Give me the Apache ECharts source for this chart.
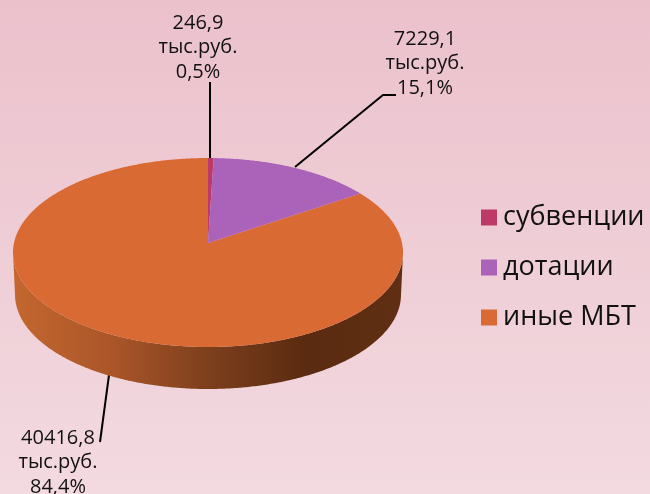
<!DOCTYPE html>
<html>
<head>
<meta charset="utf-8">
<style>
html, body { margin: 0; padding: 0; }
#main { width: 650px; height: 494px; }
</style>
<script src="https://cdn.jsdelivr.net/npm/echarts@6/dist/echarts.min.js"></script>
</head>
<body>
<div id="main"></div>
<script>
var categories = ['субвенции', 'дотации', 'иные МБТ'];
var values = [246.9, 7229.1, 40416.8];
var valueLabels = ['246,9', '7229,1', '40416,8'];
var percentLabels = ['0,5%', '15,1%', '84,4%'];
var unitLabel = 'тыс.руб.';
var colors = ['#bd3a68', '#ab62b9', '#da6a33'];

// геометрия псевдо-3D круга
var cx = 208, cy = 252.5, rx = 195, ry = 94.5;
var apexY = 243, depth = 42, bottomRx = 193;
var font = '"Open Sans"';

var total = values.reduce(function (a, b) { return a + b; }, 0);

// точка на краю эллипса по лучу из вершины сектора
function rimPoint(angle) {
	var dx = Math.sin(angle), dy = -Math.cos(angle) * ry / rx;
	var oy = apexY - cy;
	var a = dx * dx / (rx * rx) + dy * dy / (ry * ry);
	var b = 2 * oy * dy / (ry * ry);
	var c = oy * oy / (ry * ry) - 1;
	var t = (-b + Math.sqrt(b * b - 4 * a * c)) / (2 * a);
	return [cx + dx * t, apexY + dy * t];
}

function rimArc(start, end) {
	var pts = [];
	var n = Math.max(2, Math.ceil((end - start) / (Math.PI / 360)));
	for (var i = 0; i <= n; i++) {
		pts.push(rimPoint(start + (end - start) * i / n));
	}
	return pts;
}

var wallGradient = new echarts.graphic.LinearGradient(0, 0, 1, 0, [
	{ offset: 0, color: '#c4672f' },
	{ offset: 0.25, color: '#ab5629' },
	{ offset: 0.5, color: '#7d3f1c' },
	{ offset: 0.75, color: '#5a2b11' },
	{ offset: 1, color: '#602f13' }
]);

function makeSeries(name, index) {
	var before = values.slice(0, index).reduce(function (a, b) { return a + b; }, 0);
	return {
		name: name,
		type: 'custom',
		coordinateSystem: 'none',
		silent: true,
		z: index === 2 ? 2 : 3,
		data: [values[index]],
		renderItem: function (params, api) {
			var start = before / total * Math.PI * 2;
			var end = (before + api.value(0)) / total * Math.PI * 2;
			var arc = rimArc(start, end);
			var children = [];

			// боковая стенка видна только на передней половине
			var front = arc.filter(function (p) { return p[1] >= cy; });
			if (front.length > 1) {
				var lower = front.map(function (p) {
					return [cx + (p[0] - cx) * bottomRx / rx, p[1] + depth];
				}).reverse();
				children.push({
					type: 'polygon',
					shape: { points: front.concat(lower) },
					style: { fill: wallGradient }
				});
			}
			children.push({
				type: 'polygon',
				shape: { points: [[cx, apexY]].concat(arc) },
				style: { fill: colors[index] }
			});
			return { type: 'group', children: children };
		}
	};
}

function labelText(i, x, y) {
	return {
		type: 'text',
		x: x,
		y: y,
		z: 10,
		style: {
			text: valueLabels[i] + '\n' + unitLabel + '\n' + percentLabels[i],
			font: '20px ' + font,
			lineHeight: 24.5,
			fill: '#111',
			align: 'center'
		}
	};
}

function leader(points) {
	return {
		type: 'polyline',
		z: 1,
		shape: { points: points },
		style: { stroke: '#000', lineWidth: 2, fill: null }
	};
}

var myChart = echarts.init(document.getElementById('main'));
myChart.setOption({
	animation: false,
	backgroundColor: new echarts.graphic.LinearGradient(0, 0, 0, 1, [
		{ offset: 0, color: '#ebc1cc' },
		{ offset: 1, color: '#f3dae0' }
	]),
	color: colors,
	legend: {
		orient: 'vertical',
		left: 481,
		top: 204,
		icon: 'rect',
		itemWidth: 16,
		itemHeight: 16,
		itemGap: 23,
		padding: 0,
		selectedMode: false,
		textStyle: { fontFamily: font, fontSize: 27, color: '#111', padding: [0, 0, 0, 1] },
		data: categories
	},
	graphic: [
		leader([[210, 82], [210, 158]]),
		leader([[396, 95], [383, 95], [295, 167]]),
		leader([[109, 375], [100, 442]]),
		labelText(0, 198, 11),
		labelText(1, 425, 27),
		labelText(2, 58, 426)
	],
	series: categories.map(makeSeries)
});
</script>
</body>
</html>
